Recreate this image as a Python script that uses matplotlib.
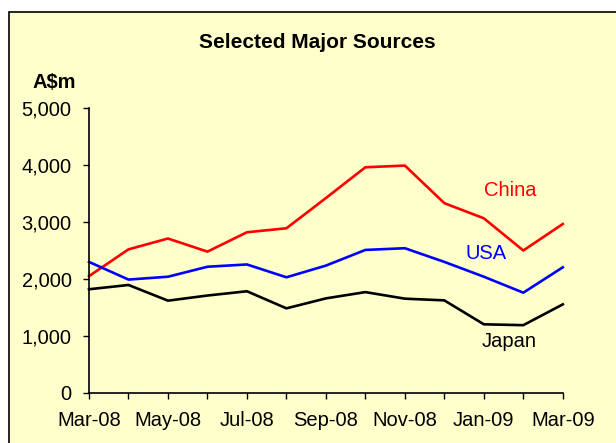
import matplotlib.pyplot as plt
from matplotlib.patches import Rectangle

plt.rcParams['font.family'] = ['Liberation Sans', 'DejaVu Sans']

months = ['Mar-08', 'Apr-08', 'May-08', 'Jun-08', 'Jul-08', 'Aug-08', 'Sep-08',
          'Oct-08', 'Nov-08', 'Dec-08', 'Jan-09', 'Feb-09', 'Mar-09']
china = [2050, 2520, 2710, 2480, 2820, 2890, 3420, 3960, 3990, 3330, 3065, 2500, 2965]
usa = [2300, 1990, 2040, 2215, 2255, 2030, 2235, 2510, 2540, 2300, 2040, 1760, 2205]
japan = [1820, 1895, 1620, 1710, 1785, 1485, 1660, 1770, 1655, 1625, 1205, 1190, 1555]

bg = '#FFFFCC'
fig = plt.figure(figsize=(6.16, 4.43), dpi=100)
# yellow chart area with a black frame, running off the right and bottom edges
fig.patches.append(Rectangle((9 / 616, -0.1), 1.2, 1 - 12 / 443 + 0.1,
                             transform=fig.transFigure, facecolor=bg,
                             edgecolor='black', linewidth=1.2, zorder=-10))

ax = fig.add_axes([89 / 616, 1 - 393 / 443, (562.8 - 89) / 616, (393 - 108) / 443])
ax.patch.set_alpha(0)

x = list(range(len(months)))
ax.plot(x, china, color='#FF0000', lw=1.9, clip_on=False)
ax.plot(x, usa, color='#0000FF', lw=1.9, clip_on=False)
ax.plot(x, japan, color='black', lw=1.9, clip_on=False)

ax.set_xlim(0, len(months) - 1)
ax.set_ylim(0, 5000)
ax.set_yticks(range(0, 5001, 1000))
ax.set_yticklabels([f'{v:,}' for v in range(0, 5001, 1000)], fontsize=14.5)
ax.set_xticks(x)
ax.set_xticklabels([m if i % 2 == 0 else '' for i, m in enumerate(months)], fontsize=14.5)
ax.tick_params(axis='both', direction='out', length=4.5, width=1, color='black')
ax.tick_params(axis='x', pad=8.5)
ax.tick_params(axis='y', pad=8)

for s in ['top', 'right']:
    ax.spines[s].set_visible(False)
for s in ['left', 'bottom']:
    ax.spines[s].set_linewidth(1.2)

ax.text(10.68, 3560, 'China', color='#FF0000', fontsize=14.5, ha='center', va='center')
ax.text(10.05, 2440, 'USA', color='#0000FF', fontsize=14.5, ha='center', va='center')
ax.text(10.63, 912, 'Japan', color='black', fontsize=14.5, ha='center', va='center')

fig.text(317 / 616, 1 - 42 / 443, 'Selected Major Sources', fontsize=15,
         fontweight='bold', ha='center', va='center')
fig.text(54 / 616, 1 - 83 / 443, 'A$m', fontsize=14.5, fontweight='bold',
         ha='center', va='center')

fig.savefig('out.png', dpi=100, facecolor='white')
